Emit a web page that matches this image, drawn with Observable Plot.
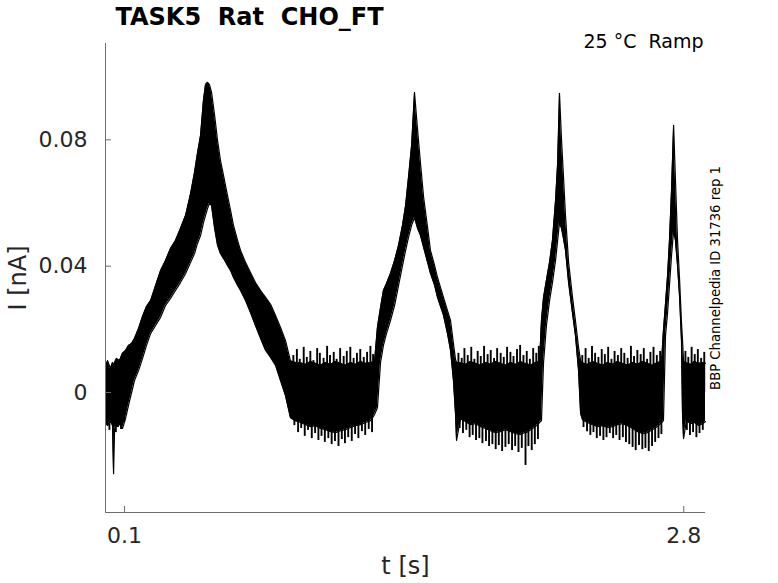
<!DOCTYPE html>
<html>
<head>
<meta charset="utf-8">
<script src="https://cdn.jsdelivr.net/npm/d3@7"></script>
<script src="https://cdn.jsdelivr.net/npm/@observablehq/plot@0.6"></script>
<style>
  html, body { margin: 0; padding: 0; background: white; }
  svg text { white-space: pre; }
</style>
</head>
<body>
<div id="chart"></div>
<script>
// time (s)
const t = [
  0.008, 0.018, 0.032, 0.042, 0.047, 0.052, 0.061, 0.076, 0.090, 0.105, 0.119, 0.134, 0.148, 0.168, 0.187, 0.206,
  0.226, 0.250, 0.274, 0.298, 0.322, 0.346, 0.370, 0.395, 0.419, 0.438, 0.452, 0.467, 0.481, 0.491, 0.501, 0.510,
  0.520, 0.535, 0.549, 0.563, 0.578, 0.597, 0.612, 0.626, 0.646, 0.660, 0.684, 0.708, 0.732, 0.757, 0.781, 0.805,
  0.829, 0.853, 0.877, 0.901, 0.926,
  0.950, 0.974, 0.998, 1.022, 1.046, 1.070, 1.095, 1.119, 1.143, 1.167, 1.191, 1.215, 1.239, 1.264, 1.288, 1.307,
  1.321, 1.336, 1.350, 1.365, 1.384, 1.404, 1.423, 1.442, 1.457, 1.471, 1.486, 1.500, 1.515, 1.529, 1.544, 1.563,
  1.577, 1.597, 1.611, 1.640, 1.659, 1.674, 1.688, 1.698, 1.703,
  1.722, 1.746, 1.770, 1.795, 1.819, 1.843, 1.867, 1.891, 1.915, 1.939, 1.964, 1.988, 2.012, 2.031, 2.036, 2.041,
  2.060, 2.084, 2.104,
  2.113, 2.123, 2.137, 2.152, 2.166, 2.181, 2.191, 2.200, 2.210, 2.219, 2.229, 2.244, 2.263, 2.277, 2.292, 2.302,
  2.311, 2.335, 2.360, 2.384, 2.408, 2.432, 2.456, 2.480, 2.504, 2.529, 2.553, 2.577, 2.601, 2.625, 2.649, 2.673, 2.693,
  2.702, 2.712, 2.722, 2.731, 2.741, 2.751, 2.760, 2.770, 2.780, 2.789, 2.794, 2.799,
  2.813, 2.833, 2.852, 2.871, 2.891, 2.905
];
// upper edge of the dense band of overlaid sweeps (nA)
const hi = [
  0.0079, 0.0101, 0.0076, 0.0095, 0.0086, 0.0095, 0.0108, 0.0101, 0.0124, 0.0133, 0.0149, 0.0155, 0.0171, 0.0203, 0.0241, 0.0272,
  0.0291, 0.0339, 0.0386, 0.0418, 0.0456, 0.0481, 0.0519, 0.0561, 0.0630, 0.0697, 0.0757, 0.0814, 0.0925, 0.0975, 0.0982, 0.0975,
  0.0950, 0.0877, 0.0798, 0.0735, 0.0687, 0.0624, 0.0576, 0.0529, 0.0481, 0.0450, 0.0412, 0.0380, 0.0348, 0.0323, 0.0301, 0.0279,
  0.0244, 0.0206, 0.0165, 0.0100, 0.0095,
  0.0094, 0.0089, 0.0098, 0.0092, 0.0086, 0.0095, 0.0089, 0.0098, 0.0092, 0.0086, 0.0095, 0.0089, 0.0098, 0.0092, 0.0095, 0.0098,
  0.0206, 0.0269, 0.0323, 0.0345, 0.0377, 0.0418, 0.0466, 0.0529, 0.0592, 0.0681, 0.0782, 0.0950, 0.0830, 0.0725, 0.0618, 0.0523,
  0.0450, 0.0402, 0.0364, 0.0301, 0.0260, 0.0228, 0.0155, 0.0105, 0.0095,
  0.0094, 0.0089, 0.0098, 0.0092, 0.0086, 0.0095, 0.0089, 0.0098, 0.0092, 0.0086, 0.0095, 0.0089, 0.0098, 0.0092, 0.0092, 0.0092,
  0.0086, 0.0095, 0.0098,
  0.0228, 0.0301, 0.0355, 0.0412, 0.0481, 0.0608, 0.0725, 0.0947, 0.0798, 0.0687, 0.0561, 0.0412, 0.0301, 0.0228, 0.0143, 0.0100,
  0.0094, 0.0089, 0.0098, 0.0092, 0.0086, 0.0095, 0.0089, 0.0098, 0.0092, 0.0086, 0.0095, 0.0089, 0.0098, 0.0092, 0.0086, 0.0095, 0.0098,
  0.0196, 0.0282, 0.0371, 0.0481, 0.0640, 0.0846, 0.0671, 0.0481, 0.0355, 0.0222, 0.0165, 0.0100,
  0.0094, 0.0089, 0.0098, 0.0092, 0.0095, 0.0092
];
// lower edge of the dense band of overlaid sweeps (nA)
const lo = [
  -0.0073, -0.0105, -0.0089, -0.0105, -0.0257, -0.0114, -0.0105, -0.0101, -0.0114, -0.0082, -0.0041, 0.0000, 0.0038, 0.0070, 0.0108, 0.0149,
  0.0187, 0.0212, 0.0238, 0.0276, 0.0298, 0.0323, 0.0348, 0.0377, 0.0412, 0.0440, 0.0472, 0.0497, 0.0538, 0.0561, 0.0583, 0.0599,
  0.0592, 0.0519, 0.0466, 0.0440, 0.0424, 0.0402, 0.0386, 0.0364, 0.0339, 0.0323, 0.0291, 0.0253, 0.0212, 0.0171, 0.0133, 0.0111,
  0.0086, 0.0038, -0.0010, -0.0080, -0.0090,
  -0.0095, -0.0102, -0.0108, -0.0105, -0.0114, -0.0118, -0.0124, -0.0127, -0.0121, -0.0118, -0.0111, -0.0105, -0.0102, -0.0095, -0.0089, -0.0070,
  -0.0048, 0.0095, 0.0149, 0.0187, 0.0228, 0.0276, 0.0339, 0.0402, 0.0450, 0.0491, 0.0529, 0.0554, 0.0519, 0.0497, 0.0459, 0.0412,
  0.0377, 0.0339, 0.0301, 0.0244, 0.0187, 0.0133, 0.0038, -0.0067, -0.0152,
  -0.0083, -0.0092, -0.0102, -0.0099, -0.0108, -0.0114, -0.0121, -0.0127, -0.0124, -0.0118, -0.0124, -0.0130, -0.0133, -0.0127, -0.0127, -0.0127,
  -0.0118, -0.0108, -0.0095,
  -0.0089, 0.0095, 0.0212, 0.0291, 0.0348, 0.0418, 0.0481, 0.0538, 0.0519, 0.0488, 0.0450, 0.0348, 0.0250, 0.0181, 0.0070, -0.0067,
  -0.0086, -0.0095, -0.0102, -0.0108, -0.0105, -0.0111, -0.0108, -0.0102, -0.0099, -0.0105, -0.0114, -0.0124, -0.0130, -0.0127, -0.0118, -0.0108, -0.0095,
  -0.0089, 0.0181, 0.0253, 0.0339, 0.0434, 0.0513, 0.0481, 0.0402, 0.0301, 0.0165, -0.0067, -0.0146,
  -0.0089, -0.0099, -0.0095, -0.0105, -0.0099, -0.0092
];

// upward noise spikes on the flat stretches: time (s), tip (nA)
const upT = [
  0.915, 0.932, 0.946, 0.965, 0.980, 0.997, 1.012, 1.030, 1.043, 1.061, 1.078, 1.092, 1.110, 1.124, 1.141, 1.158, 1.173, 1.190, 1.206, 1.222, 1.238, 1.255, 1.271, 1.287, 1.300,
  1.712, 1.728, 1.741, 1.757, 1.774, 1.789, 1.805, 1.820, 1.836, 1.853, 1.868, 1.884, 1.899, 1.916, 1.931, 1.947, 1.963, 1.978, 1.995, 2.010, 2.026, 2.042, 2.057, 2.073, 2.088, 2.100,
  2.310, 2.326, 2.341, 2.357, 2.372, 2.388, 2.404, 2.419, 2.435, 2.451, 2.466, 2.482, 2.498, 2.513, 2.529, 2.545, 2.560, 2.576, 2.592, 2.607, 2.623, 2.639, 2.654, 2.670, 2.686,
  2.808, 2.822, 2.838, 2.853, 2.868, 2.884, 2.899
];
const upV = [
  0.0117, 0.0136, 0.0105, 0.0143, 0.0111, 0.0130, 0.0101, 0.0139, 0.0124, 0.0108, 0.0146, 0.0117, 0.0127, 0.0105, 0.0139, 0.0114, 0.0130, 0.0143, 0.0108, 0.0124, 0.0136, 0.0111, 0.0127, 0.0146, 0.0120,
  0.0124, 0.0108, 0.0139, 0.0117, 0.0143, 0.0105, 0.0130, 0.0114, 0.0146, 0.0120, 0.0133, 0.0108, 0.0139, 0.0124, 0.0111, 0.0143, 0.0127, 0.0114, 0.0136, 0.0149, 0.0117, 0.0130, 0.0105, 0.0139, 0.0124, 0.0146,
  0.0117, 0.0139, 0.0108, 0.0146, 0.0124, 0.0111, 0.0136, 0.0120, 0.0143, 0.0105, 0.0130, 0.0117, 0.0139, 0.0124, 0.0108, 0.0146, 0.0114, 0.0133, 0.0120, 0.0139, 0.0105, 0.0127, 0.0143, 0.0117, 0.0130,
  0.0130, 0.0111, 0.0143, 0.0120, 0.0136, 0.0108, 0.0127
];
// downward noise spikes: time (s), tip (nA)
const downT = [
  0.015, 0.027, 0.037, 0.058, 0.068, 0.083, 0.098,
  0.920, 0.938, 0.953, 0.970, 0.986, 1.004, 1.020, 1.036, 1.051, 1.067, 1.084, 1.100, 1.116, 1.133, 1.149, 1.164, 1.180, 1.197, 1.213, 1.229, 1.246, 1.262, 1.279, 1.295,
  1.718, 1.734, 1.750, 1.766, 1.781, 1.797, 1.813, 1.828, 1.845, 1.860, 1.876, 1.892, 1.907, 1.923, 1.939, 1.955, 1.971, 1.986, 2.002, 2.018, 2.036, 2.050, 2.066, 2.081, 2.096,
  2.316, 2.333, 2.349, 2.364, 2.380, 2.396, 2.412, 2.427, 2.443, 2.459, 2.474, 2.490, 2.506, 2.521, 2.537, 2.553, 2.568, 2.584, 2.600, 2.615, 2.631, 2.647, 2.662, 2.678, 2.692,
  2.815, 2.830, 2.845, 2.861, 2.876, 2.892
];
const downV = [
  -0.0105, -0.0120, -0.0098, -0.0127, -0.0111, -0.0117, -0.0095,
  -0.0105, -0.0127, -0.0114, -0.0139, -0.0120, -0.0146, -0.0130, -0.0152, -0.0139, -0.0158, -0.0146, -0.0165, -0.0155, -0.0171, -0.0149, -0.0162, -0.0143, -0.0155, -0.0133, -0.0146, -0.0124, -0.0136, -0.0117, -0.0127,
  -0.0114, -0.0130, -0.0120, -0.0143, -0.0136, -0.0152, -0.0146, -0.0162, -0.0155, -0.0171, -0.0165, -0.0181, -0.0168, -0.0187, -0.0174, -0.0165, -0.0184, -0.0171, -0.0190, -0.0177, -0.0231, -0.0171, -0.0184, -0.0165, -0.0149,
  -0.0111, -0.0124, -0.0136, -0.0127, -0.0146, -0.0139, -0.0152, -0.0143, -0.0130, -0.0146, -0.0136, -0.0152, -0.0143, -0.0158, -0.0165, -0.0174, -0.0184, -0.0168, -0.0181, -0.0177, -0.0187, -0.0171, -0.0158, -0.0146, -0.0133,
  -0.0120, -0.0136, -0.0127, -0.0143, -0.0130, -0.0120
];

const xDomain = [0.008, 2.905];
const yDomain = [-0.038, 0.1105];
const xTicks = [0.1, 2.8];
const xTickLabels = ["0.1", "2.8"];
const yTicks = [0, 0.04, 0.08];
const yTickLabels = ["0", "0.04", "0.08"];
const titleText = "TASK5  Rat  CHO_FT";
const subText = "25 °C  Ramp";
const sideText = "BBP Channelpedia ID 31736 rep 1";
const xLabel = "t [s]";
const yLabel = "I [nA]";

const band = t.map((d, i) => ({t: d, hi: hi[i], lo: lo[i]}));
const ups = upT.map((d, i) => ({t: d, v: upV[i]}));
const downs = downT.map((d, i) => ({t: d, v: downV[i]}));

const W = 778, H = 583, mL = 105, mR = 73, mT = 43, mB = 71;
const axisColor = "#6b6b6b";

const chart = Plot.plot({
  width: W, height: H,
  marginLeft: mL, marginRight: mR, marginTop: mT, marginBottom: mB,
  x: {domain: xDomain},
  y: {domain: yDomain},
  style: {fontFamily: "DejaVu Sans", fontSize: "22px", color: "#262626", background: "white"},
  marks: [
    Plot.areaY(band, {x: "t", y1: "lo", y2: "hi", fill: "black"}),
    Plot.lineY(band, {x: "t", y: "hi", stroke: "black", strokeWidth: 1.2}),
    Plot.lineY(band, {x: "t", y: "lo", stroke: "black", strokeWidth: 1.2}),
    Plot.ruleX(ups, {x: "t", y1: 0, y2: "v", stroke: "black", strokeWidth: 1.9}),
    Plot.ruleX(downs, {x: "t", y1: 0, y2: "v", stroke: "black", strokeWidth: 1.9}),
    Plot.ruleX([xDomain[0]], {stroke: axisColor}),
    Plot.ruleY([yDomain[0]], {stroke: axisColor}),
    Plot.ruleY(yTicks, {stroke: axisColor, insetRight: (W - mL - mR) - 6}),
    Plot.ruleX(xTicks, {stroke: axisColor, insetTop: (H - mT - mB) - 6}),
    Plot.axisY({ticks: yTicks, tickFormat: d => yTickLabels[yTicks.indexOf(d)], tickSize: 0, tickPadding: 18, label: null, fontSize: 22}),
    Plot.axisX({ticks: xTicks, tickFormat: d => xTickLabels[xTicks.indexOf(d)], tickSize: 0, tickPadding: 15, label: null, fontSize: 22}),
    Plot.text([yLabel], {text: d => d, frameAnchor: "left", dx: -87, rotate: -90, fontSize: 24, textAnchor: "middle", lineAnchor: "middle", fill: "#262626"}),
    Plot.text([xLabel], {text: d => d, frameAnchor: "bottom", dy: 54, fontSize: 24, textAnchor: "middle", lineAnchor: "middle", fill: "#262626"}),
    Plot.text([titleText], {text: d => d, frameAnchor: "top", dx: -156, dy: -26, fontSize: 24, fontWeight: "bold", textAnchor: "middle", lineAnchor: "middle", fill: "black"}),
    Plot.text([subText], {text: d => d, frameAnchor: "top-right", dx: -2, dy: -2, fontSize: 19, textAnchor: "end", lineAnchor: "middle", fill: "black"}),
    Plot.text([sideText], {text: d => d, frameAnchor: "right", dx: 10, rotate: -90, fontSize: 13.2, textAnchor: "middle", lineAnchor: "middle", fill: "black"})
  ]
});
document.getElementById("chart").appendChild(chart);
</script>
</body>
</html>
